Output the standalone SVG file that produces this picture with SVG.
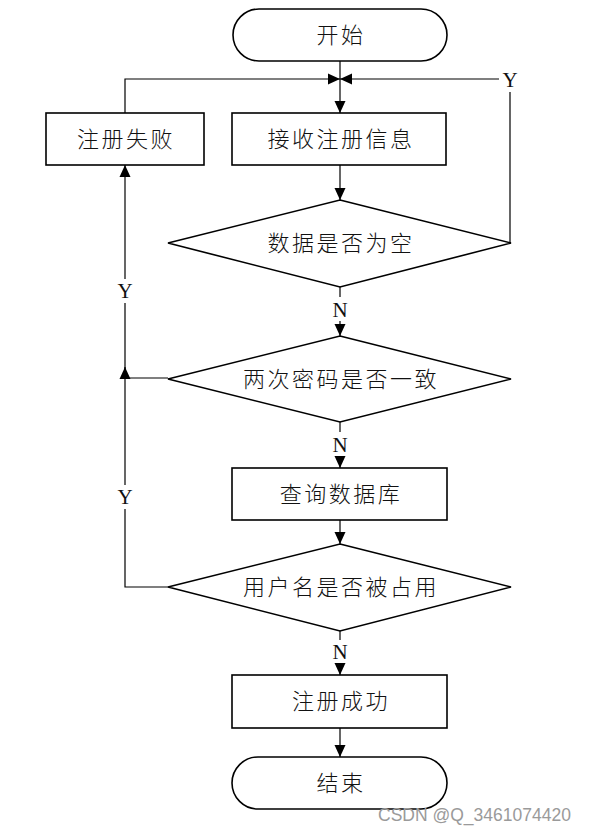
<svg xmlns="http://www.w3.org/2000/svg" width="589" height="833" viewBox="0 0 589 833">
<defs>
<marker id="arr" markerWidth="12" markerHeight="13" refX="12" refY="6.5" orient="auto" markerUnits="userSpaceOnUse">
<path d="M0,1 L12,6.5 L0,12 Z" fill="#000"/>
</marker>
<style>
.shape{fill:#fff;stroke:#000;stroke-width:1.6}
.ln{fill:none;stroke:#000;stroke-width:1.2}
.t{font-family:"Liberation Serif","Noto Sans CJK SC",serif;font-size:22px;font-weight:300;letter-spacing:2.5px;text-anchor:middle;fill:#111}
.yn{font-family:"Liberation Serif",serif;font-size:21px;text-anchor:middle;fill:#111}
.wm{font-family:"Liberation Sans",sans-serif;font-size:17.5px;fill:#9a9a9a}
</style>
</defs>
<rect width="589" height="833" fill="#fff"/>
<g id="connectors">
<path class="ln" d="M340,61 V113" marker-end="url(#arr)"/>
<path class="ln" d="M125,113 V79 H340" marker-end="url(#arr)"/>
<path class="ln" d="M511,243 H510 V92"/>
<path class="ln" d="M499,79 H340" marker-end="url(#arr)"/>
<path class="ln" d="M340,165 V200" marker-end="url(#arr)"/>
<path class="ln" d="M340,287 V297"/>
<path class="ln" d="M340,321 V336" marker-end="url(#arr)"/>
<path class="ln" d="M340,422 V432"/>
<path class="ln" d="M340,456 V468" marker-end="url(#arr)"/>
<path class="ln" d="M340,520 V544" marker-end="url(#arr)"/>
<path class="ln" d="M340,631 V640"/>
<path class="ln" d="M340,663 V675" marker-end="url(#arr)"/>
<path class="ln" d="M340,728 V757" marker-end="url(#arr)"/>
<path class="ln" d="M168,378 H125 V303"/>
<path class="ln" d="M125,279 V165" marker-end="url(#arr)"/>
<path class="ln" d="M168,587 H125 V509"/>
<path class="ln" d="M125,485 V367" marker-end="url(#arr)"/>
</g>
<g id="labels">
<text class="yn" x="510" y="87">Y</text>
<text class="yn" x="125" y="298">Y</text>
<text class="yn" x="125" y="504">Y</text>
<text class="yn" x="340" y="317">N</text>
<text class="yn" x="340" y="452">N</text>
<text class="yn" x="340" y="659">N</text>
</g>
<g id="start">
<rect class="shape" x="233" y="9" width="214" height="52" rx="26"/>
<text class="t" x="341" y="43">开始</text>
</g>
<g id="receive">
<rect class="shape" x="232" y="113" width="214" height="52"/>
<text class="t" x="341" y="147">接收注册信息</text>
</g>
<g id="fail">
<rect class="shape" x="46" y="113" width="158" height="52"/>
<text class="t" x="126" y="147">注册失败</text>
</g>
<g id="empty">
<polygon class="shape" points="340,200 511,243 340,287 168,243"/>
<text class="t" x="341" y="251">数据是否为空</text>
</g>
<g id="match">
<polygon class="shape" points="340,336 511,379 340,422 168,379"/>
<text class="t" x="341" y="387">两次密码是否一致</text>
</g>
<g id="query">
<rect class="shape" x="232" y="468" width="215" height="52"/>
<text class="t" x="341" y="502">查询数据库</text>
</g>
<g id="taken">
<polygon class="shape" points="340,544 511,587 340,631 168,587"/>
<text class="t" x="341" y="595">用户名是否被占用</text>
</g>
<g id="success">
<rect class="shape" x="232" y="675" width="215" height="53"/>
<text class="t" x="341" y="709">注册成功</text>
</g>
<g id="end">
<rect class="shape" x="232" y="757" width="215" height="52" rx="26"/>
<text class="t" x="341" y="791">结束</text>
</g>
<text class="wm" x="378" y="821">CSDN @Q_3461074420</text>
</svg>
